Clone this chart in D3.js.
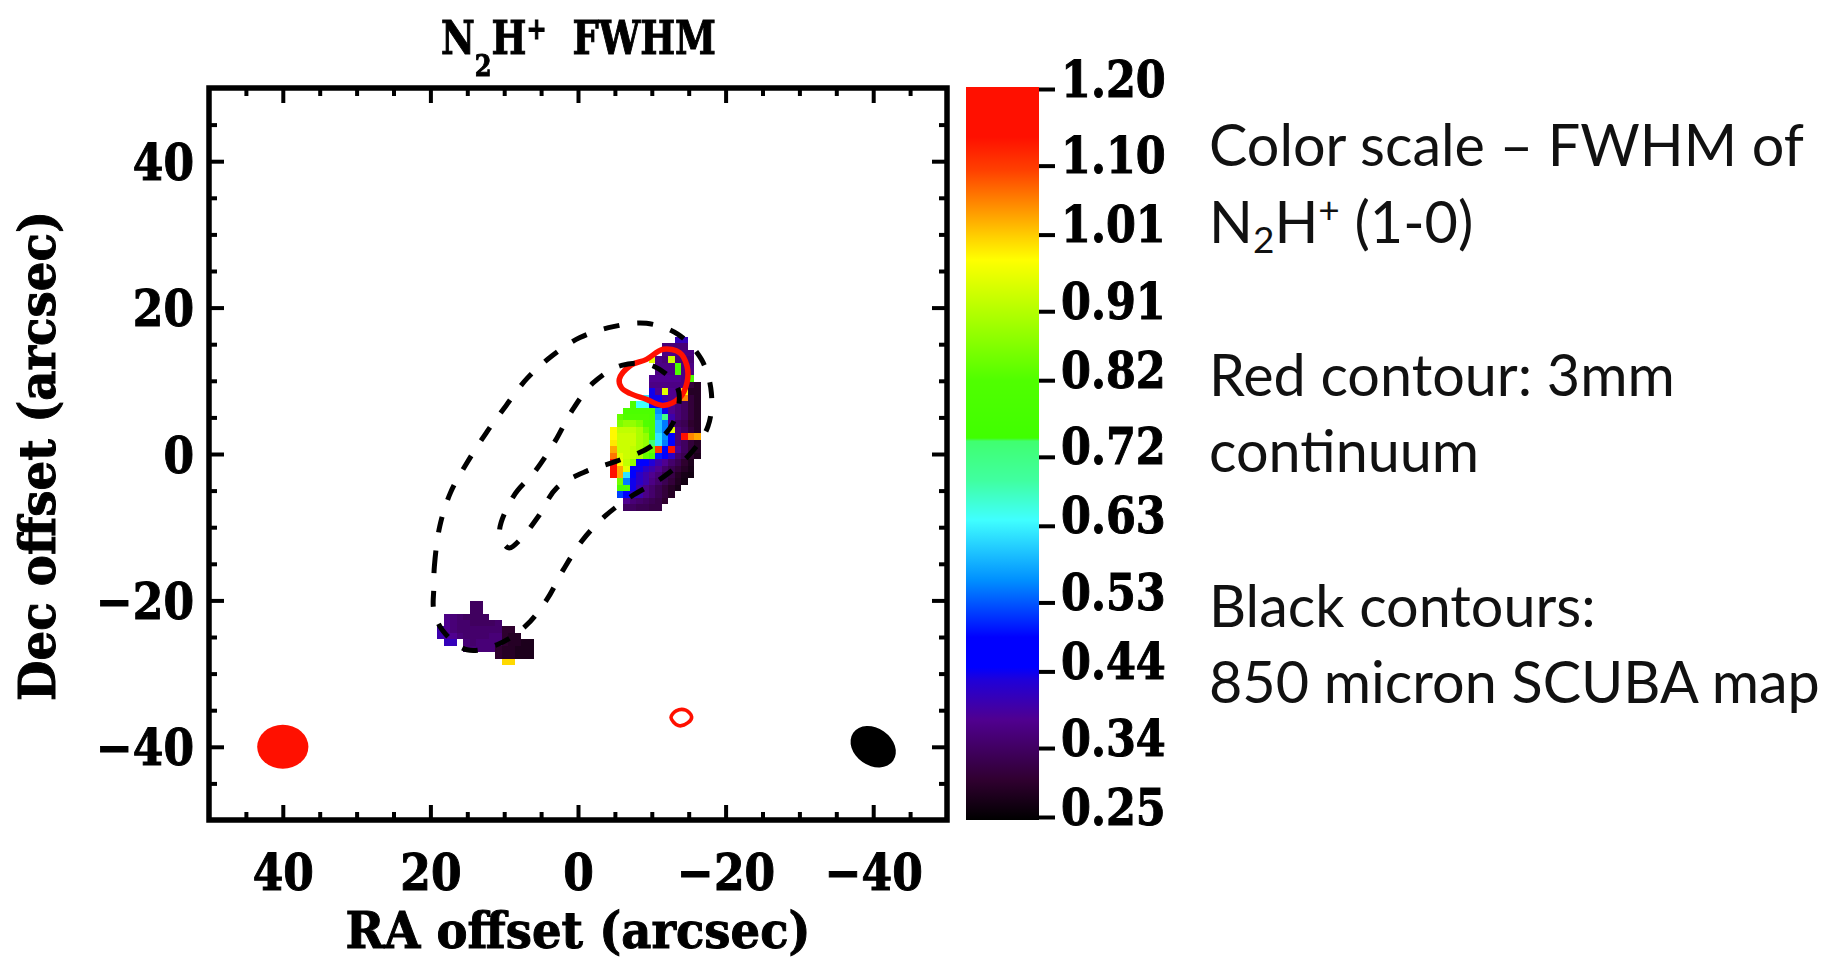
<!DOCTYPE html>
<html>
<head>
<meta charset="utf-8">
<script src="https://cdn.jsdelivr.net/npm/d3@7"></script>
<style>
    html, body { margin: 0; padding: 0; background: #fff; overflow: hidden; }
</style>
</head>
<body>
<div id="chart"></div>
<script>
// FWHM scale: value -> colour
const colorValues = [0.25, 0.302, 0.38, 0.431, 0.448, 0.487, 0.561, 0.639, 0.69, 0.741, 0.745, 0.82, 0.976, 1.006, 1.092, 1.135, 1.2];
const colorStops = ["#000000", "#300030", "#500090", "#2000d8", "#0000ff", "#0000ff", "#0090ff", "#40ffff", "#40ffa0", "#40ff70", "#40ff00", "#50ff00", "#ffff00", "#ffd000", "#ff4000", "#ff1000", "#ff1000"];
const barTicks = [1.20, 1.10, 1.01, 0.91, 0.82, 0.72, 0.63, 0.53, 0.44, 0.34, 0.25];

const axisMajor = [40, 20, 0, -20, -40];
const axisMinor = [45, 35, 30, 25, 15, 10, 5, -5, -10, -15, -25, -30, -35, -45];

// pixel map, one row per line: [first column, values...]
const cellSize = 0.88;
const upperOrigin = [-4.34, 16.02];
const upperRows = [
    [10, .41, .41],
    [8, .36, .36, .36, .36],
    [8, .37, .37, .37, .37, .37],
    [6, .95, .37, .36, .93, .36, .36, .36],
    [7, .37, .37, .37, .80, .37, .37],
    [7, .37, .37, .37, .80, .37, .37],
    [6, .38, .38, .38, .38, .38, .37, .80],
    [6, .37, .37, .37, .37, .37, .37, .31, .29],
    [6, .44, .38, .95, .38, .38, .98, .29, .29],
    [5, .62, .44, .44, .40, .38, .38, 1.05, .31, .29],
    [3, .80, .64, .64, .46, .44, .44, .38, .36, .34, .31, .29],
    [2, .80, .80, .80, .80, .80, .56, .44, .38, .36, .34, .31, .29],
    [1, .84, .82, .82, .82, .82, .80, .58, .72, .40, .36, .34, .31, .29],
    [1, .86, .88, .88, .86, .82, .80, .60, .55, .38, .34, .33, .30, .29],
    [0, .98, .92, .92, .92, .90, .85, .80, .60, .55, .95, .36, .34, .31, .29],
    [0, .98, .93, .93, .93, .90, .88, .78, .62, .56, .45, .36, 1.15, 1.05, 1.03],
    [0, .99, .93, .93, .93, .90, .88, .74, .62, .55, .45, .36, .34, .31, .29],
    [0, 1.03, .93, .93, .92, .90, .86, .84, 1.10, .46, 1.15, .38, .34, .31, .29],
    [0, 1.06, .95, .93, .92, .90, .84, .80, .50, .46, .42, .35, .33, .30, .28],
    [0, 1.15, .98, .92, .88, .46, .45, .43, .40, .38, .35, .33, .30, .28],
    [0, 1.15, 1.03, .95, .46, .44, .42, .40, .38, .35, .33, .31, .29, .275],
    [0, 1.15, 1.03, .62, .45, .42, .40, .38, .36, .33, .32, .29, .275, .27],
    [1, .85, .55, .44, .42, .40, .37, .35, .33, .31, .285, .27],
    [1, .80, .82, .44, .40, .37, .35, .33, .31, .29, .275],
    [1, .52, .46, .42, .40, .37, .35, .33, .31, .29],
    [2, .38, .36, .35, .34, .33, .32, .30],
    [2, .34, .34, .33, .33, .32, .32]
];

const lowerOrigin = [19.1, -20.04];
const lowerRows = [
    [5, .34, .34],
    [5, .34, .34],
    [1, .37, .36, .35, .34, .34, .34, .34],
    [1, .38, .36, .35, .35, .34, .34, .34, .34, .35],
    [0, .40, .38, .36, .35, .35, .35, .35, .35, .35, .35, .30, .30],
    [0, .40, .39, .38, .36, .35, .35, .35, .35, .36, .36, .30, .29, .29],
    [1, .41, .41, null, .36, .35, .36, .36, .36, .36, .30, .29, .29, .28, .28],
    [4, .36, .36, .36, .36, .36, .30, .29, .29, .28, .28, .28],
    [9, .30, .29, .29, .28, .28, .28],
    [10, 1.0, 1.0]
];

// SCUBA contours [RA offset, Dec offset]
const outerContour = [[19.55, -18.53], [19.46, -15.34], [18.73, -9.87], [17.29, -5.31], [15.04, -1.2], [12.43, 2.9], [9.73, 6.64], [6.93, 10.29], [3.55, 13.39], [-0.27, 15.9], [-4.78, 17.4], [-9.28, 17.86], [-13.56, 16.35], [-16.72, 12.93], [-18.07, 8.37], [-17.62, 3.81], [-15.14, -0.06], [-11.08, -3.48], [-7.26, -5.76], [-3.65, -8.5], [-0.5, -11.92], [1.98, -15.8], [4.23, -19.9], [7.16, -23.55], [10.99, -26.06], [15.04, -26.74], [18.42, -24.0], [19.55, -21.27]];
const innerContour = [[10.63, -10.78], [8.73, -5.76], [5.81, -2.34], [3.1, 1.76], [0.85, 5.86], [-2.08, 9.74], [-5.91, 12.11], [-10.19, 12.02], [-13.56, 8.83], [-12.89, 4.27], [-9.96, 1.08], [-5.23, -0.98], [-1.18, -2.34], [2.88, -4.62], [5.36, -8.5], [7.83, -11.69], [9.41, -12.83]];

// 3mm continuum contours
const redContour = [[-5.59, 10.19], [-7.03, 12.02], [-9.28, 12.93], [-11.53, 14.3], [-13.78, 13.84], [-14.77, 12.02], [-14.77, 9.74], [-13.78, 7.68], [-11.53, 6.64], [-9.28, 7.46], [-7.03, 8.28], [-5.9, 9.05]];
const redSmall = [[-12.6, -36.0], [-13.3, -35.1], [-14.6, -35.0], [-15.4, -35.9], [-14.9, -36.7], [-13.6, -37.1]];

// beams: centre and semi axes in arcsec
const redBeam = { x: 40, y: -40, a: 3.47, b: 3.0, tilt: 0, color: "#ff1000" };
const blackBeam = { x: -40, y: -40, a: 3.3, b: 2.55, tilt: 35, color: "#000" };

const sideText = [
    { y: 166, parts: [["Color scale – FWHM of", 0]] },
    { y: 243, parts: [["N", 0], ["2", 1], ["H", 0], ["+", -1], [" (1-0)", 0]] },
    { y: 396, parts: [["Red contour: 3mm", 0]] },
    { y: 472, parts: [["continuum", 0]] },
    { y: 627, parts: [["Black contours:", 0]] },
    { y: 703, parts: [["850 micron SCUBA map", 0]] }
];

const width = 1839, height = 957;
const labelFont = "'DejaVu Serif', serif";

const svg = d3.select("#chart").append("svg")
    .attr("width", width)
    .attr("height", height)
    .style("display", "block");

const plot = svg.append("g").style("filter", "blur(0.6px)");

const x = d3.scaleLinear().domain([50, -50]).range([209, 947]);
const y = d3.scaleLinear().domain([50, -50]).range([88, 820]);
const barY = d3.scaleLinear().domain([0.25, 1.2]).range([817, 89]);
const color = d3.scaleLinear().domain(colorValues).range(colorStops);

// squeeze a text sideways, the original glyphs are narrower than DejaVu
function squeeze(sel, k) {
    sel.each(function () {
        const len = this.getComputedTextLength();
        if (len > 0) {
            d3.select(this).attr("textLength", len * k).attr("lengthAdjust", "spacingAndGlyphs");
        }
    });
}

// Cells
function drawCells(rows, origin) {
    const cells = [];
    rows.forEach((row, j) => {
        row.slice(1).forEach((v, i) => {
            if (v !== null) cells.push({ col: row[0] + i, row: j, v });
        });
    });
    plot.append("g").selectAll("rect")
        .data(cells)
        .join("rect")
        .attr("x", d => x(origin[0] - d.col * cellSize))
        .attr("y", d => y(origin[1] - d.row * cellSize))
        .attr("width", d => x(origin[0] - (d.col + 1) * cellSize) - x(origin[0] - d.col * cellSize))
        .attr("height", d => y(origin[1] - (d.row + 1) * cellSize) - y(origin[1] - d.row * cellSize))
        .attr("fill", d => color(d.v))
        .attr("shape-rendering", "crispEdges");
}
drawCells(upperRows, upperOrigin);
drawCells(lowerRows, lowerOrigin);

// Contours
const line = d3.line().x(d => x(d[0])).y(d => y(d[1])).curve(d3.curveCatmullRomClosed);

plot.selectAll(".red")
    .data([{ pts: redContour, w: 5.5 }, { pts: redSmall, w: 3.6 }])
    .join("path")
    .attr("fill", "none")
    .attr("stroke", "#ff1000")
    .attr("stroke-width", d => d.w)
    .attr("d", d => line(d.pts));

plot.selectAll(".black")
    .data([outerContour, innerContour])
    .join("path")
    .attr("fill", "none")
    .attr("stroke", "#000")
    .attr("stroke-width", 5)
    .attr("stroke-dasharray", "16 18")
    .attr("d", line);

// Beams
plot.selectAll(".beam")
    .data([redBeam, blackBeam])
    .join("ellipse")
    .attr("cx", d => x(d.x))
    .attr("cy", d => y(d.y))
    .attr("rx", d => x(-d.a) - x(0))
    .attr("ry", d => y(-d.b) - y(0))
    .attr("fill", d => d.color)
    .attr("transform", d => `rotate(${d.tilt} ${x(d.x)} ${y(d.y)})`);

// Frame
plot.append("rect")
    .attr("x", x(50))
    .attr("y", y(50))
    .attr("width", x(-50) - x(50))
    .attr("height", y(-50) - y(50))
    .attr("fill", "none")
    .attr("stroke", "#000")
    .attr("stroke-width", 5.5);

// heavier strokes on the serif labels, the original is a thick bitmap font
function boldLabel(sel) {
    sel.attr("font-family", labelFont)
        .attr("font-weight", "bold")
        .attr("font-size", 50)
        .attr("fill", "#000")
        .attr("stroke", "#000")
        .attr("stroke-width", 1);
}

// Ticks, pointing inward on all four sides
function drawAxis(gen, tx, ty, values, size, labelled, pad, shift) {
    const g = plot.append("g")
        .attr("transform", `translate(${tx},${ty})`)
        .call(gen.tickValues(values).tickSizeInner(size).tickSizeOuter(0).tickPadding(pad)
            .tickFormat(labelled ? d3.format("d") : ""));
    g.select(".domain").remove();
    g.selectAll("line").attr("stroke", "#000").attr("stroke-width", 4);
    const t = g.selectAll("text").call(boldLabel);
    if (labelled) {
        squeeze(t, 0.88);
        if (shift) t.attr("y", shift);
    }
}
drawAxis(d3.axisBottom(x), 0, y(-50), axisMajor, -15, true, 34);
drawAxis(d3.axisBottom(x), 0, y(-50), axisMinor, -8, false, 0);
drawAxis(d3.axisTop(x), 0, y(50), axisMajor, -15, false, 0);
drawAxis(d3.axisTop(x), 0, y(50), axisMinor, -8, false, 0);
drawAxis(d3.axisLeft(y), x(50), 0, axisMajor, -15, true, 15, 2);
drawAxis(d3.axisLeft(y), x(50), 0, axisMinor, -8, false, 0);
drawAxis(d3.axisRight(y), x(-50), 0, axisMajor, -15, false, 0);
drawAxis(d3.axisRight(y), x(-50), 0, axisMinor, -8, false, 0);

// Colour bar
const grad = svg.append("defs").append("linearGradient")
    .attr("id", "fwhm")
    .attr("x1", 0).attr("x2", 0).attr("y1", 1).attr("y2", 0);
grad.selectAll("stop")
    .data(colorValues)
    .join("stop")
    .attr("offset", d => (d - 0.25) / 0.95)
    .attr("stop-color", (d, i) => colorStops[i]);

plot.append("rect")
    .attr("x", 966)
    .attr("y", barY(1.2) - 2)
    .attr("width", 73)
    .attr("height", barY(0.25) - barY(1.2) + 5)
    .attr("fill", "url(#fwhm)");

const barAxis = plot.append("g")
    .attr("transform", "translate(1039,0)")
    .call(d3.axisRight(barY).tickValues(barTicks).tickSizeInner(16).tickSizeOuter(0).tickPadding(6)
        .tickFormat(d3.format(".2f")));
barAxis.select(".domain").remove();
barAxis.selectAll("line").attr("stroke", "#000").attr("stroke-width", 4);
barAxis.selectAll("text")
    .call(boldLabel)
    .attr("y", -9)
    .call(squeeze, 0.86);

// Title and axis names
const title = plot.append("text")
    .attr("x", 441)
    .attr("y", 54)
    .call(boldLabel)
    .attr("font-size", 46)
    .style("white-space", "pre");
title.append("tspan").text("N");
title.append("tspan").attr("font-size", 30).attr("dy", 22).text("2");
title.append("tspan").attr("dy", -22).text("H");
title.append("tspan").attr("font-size", 30).attr("dy", -15).text("+");
title.append("tspan").attr("dy", 15).text("  FWHM");
title.attr("textLength", 275).attr("lengthAdjust", "spacingAndGlyphs");

plot.append("text")
    .attr("x", 578)
    .attr("y", 948)
    .attr("text-anchor", "middle")
    .call(boldLabel)
    .attr("textLength", 465)
    .attr("lengthAdjust", "spacingAndGlyphs")
    .text("RA offset (arcsec)");

plot.append("text")
    .attr("transform", "translate(55,456) rotate(-90)")
    .attr("text-anchor", "middle")
    .call(boldLabel)
    .attr("textLength", 490)
    .attr("lengthAdjust", "spacingAndGlyphs")
    .text("Dec offset (arcsec)");

// Side notes
sideText.forEach(row => {
    const t = svg.append("text")
        .attr("x", 1209)
        .attr("y", row.y)
        .attr("font-family", "Lato, sans-serif")
        .attr("font-size", 57.5)
        .attr("fill", "#111")
        .style("white-space", "pre");
    let shift = 0;
    row.parts.forEach(p => {
        const target = p[1] * (p[1] > 0 ? 10 : 20);
        t.append("tspan")
            .attr("dy", target - shift)
            .attr("font-size", p[1] ? 37 : 57.5)
            .text(p[0]);
        shift = target;
    });
});
</script>
</body>
</html>
